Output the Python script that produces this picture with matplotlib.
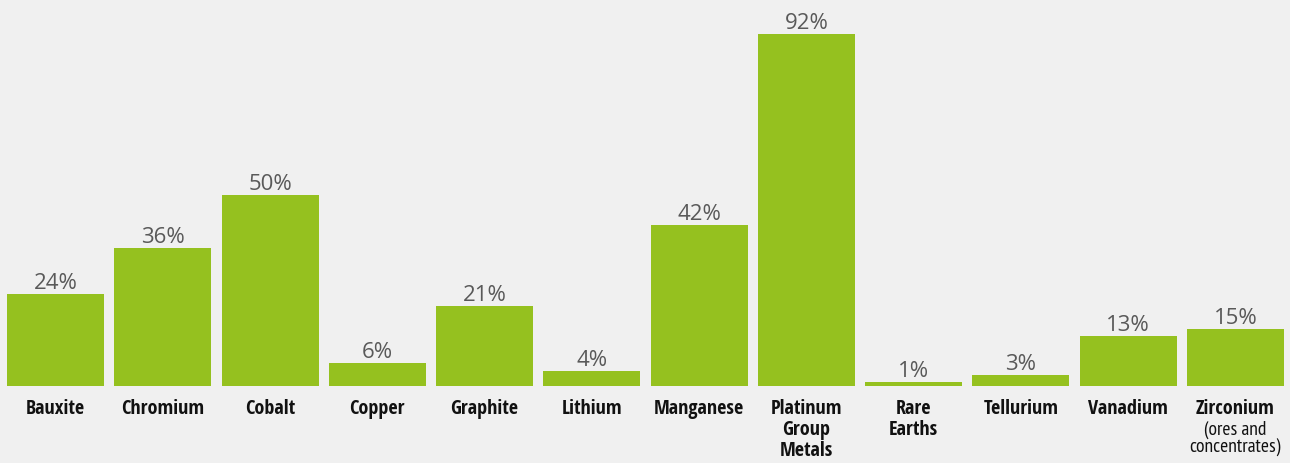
import matplotlib
matplotlib.use('Agg')
import matplotlib.pyplot as plt

categories = ['Bauxite', 'Chromium', 'Cobalt', 'Copper', 'Graphite', 'Lithium',
              'Manganese', 'Platinum\nGroup\nMetals', 'Rare\nEarths', 'Tellurium',
              'Vanadium', 'Zirconium']
notes = ['', '', '', '', '', '', '', '', '', '', '', '(ores and\nconcentrates)']
values = [24, 36, 50, 6, 21, 4, 42, 92, 1, 3, 13, 15]

GREEN = '#95c11f'
BG = '#f0f0f0'
BOLD_NARROW = ['Open Sans Condensed', 'PT Sans Narrow', 'DejaVu Sans']
NARROW = ['PT Sans Narrow', 'Roboto Condensed', 'DejaVu Sans']

fig = plt.figure(figsize=(12.9, 4.64), dpi=100, facecolor=BG)
ax = fig.add_axes([2 / 1290, 77 / 464, 1287 / 1290, 382.6 / 464])
ax.set_facecolor(BG)

x = range(len(values))
ax.bar(x, values, width=0.905, color=GREEN)
ax.set_xlim(-0.5, len(values) - 0.5)
ax.set_ylim(0, 100)
ax.axis('off')

# value labels above the bars
for i, v in enumerate(values):
    ax.annotate(f'{v}%', (i, v), xytext=(0, 4.3), textcoords='offset points',
                ha='center', va='baseline', fontsize=16, color='#595959',
                family=['Open Sans', 'DejaVu Sans'])

# category names below
for i, (c, n) in enumerate(zip(categories, notes)):
    ax.annotate(c, (i, 0), xytext=(0, -9), textcoords='offset points',
                ha='center', va='top', fontsize=14.5, fontweight='bold',
                color='#111111', family=BOLD_NARROW, linespacing=1.04)
    if n:
        ax.annotate(n, (i, 0), xytext=(0, -24), textcoords='offset points',
                    ha='center', va='top', fontsize=14, color='#111111',
                    family=NARROW, linespacing=1.0)

fig.savefig('out.png', dpi=100, facecolor=BG)
